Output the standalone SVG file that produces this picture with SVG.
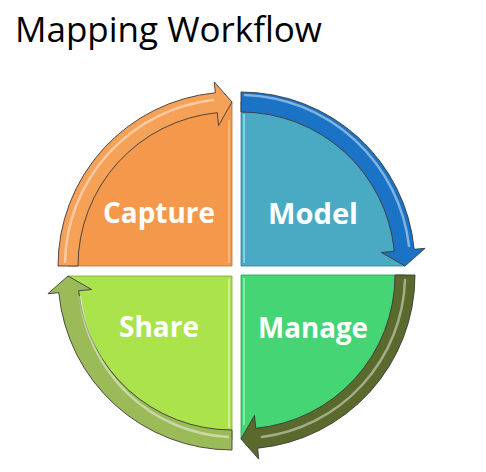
<svg xmlns="http://www.w3.org/2000/svg" width="486" height="472" viewBox="0 0 486 472">
<defs>
<style>
.title{font-family:"Open Sans","Liberation Sans",sans-serif;font-size:34px;fill:#000}
.lbl{font-family:"Open Sans","Liberation Sans",sans-serif;font-weight:bold;font-size:28px;fill:#fff;text-anchor:middle}
.q{stroke-width:0.8}
.arr{stroke:#3a3a3a;stroke-width:0.9;stroke-linejoin:round}
.hl{fill:none;stroke:#fff;stroke-width:2.5;stroke-opacity:0.45;stroke-linecap:round}
.edge{stroke-width:2;stroke-opacity:0.5}
</style>
</defs>
<rect width="486" height="472" fill="#fff"/>
<text class="title" x="15" y="42" textLength="307" lengthAdjust="spacingAndGlyphs">Mapping Workflow</text>

<g id="capture">
<path class="q" d="M232,266 L68,266 A164,164 0 0 1 232,102 Z" fill="#F4994B" stroke="#b8702f"/>
<line class="edge" x1="229" y1="120" x2="229" y2="263" stroke="#ffd2a8"/>
<text class="lbl" x="159" y="223" textLength="112" lengthAdjust="spacingAndGlyphs">Capture</text>
</g>
<g id="model">
<path class="q" d="M241,266 L241,102 A164,164 0 0 1 405,266 Z" fill="#4AAAC4" stroke="#2f7f96"/>
<line class="edge" x1="244" y1="114" x2="244" y2="263" stroke="#bff0ff"/>
<text class="lbl" x="313" y="224" textLength="90" lengthAdjust="spacingAndGlyphs">Model</text>
</g>
<g id="manage">
<path class="q" d="M241,275 L405,275 A164,164 0 0 1 241,439 Z" fill="#45D574" stroke="#2b9a50"/>
<line class="edge" x1="244" y1="278" x2="244" y2="425" stroke="#c5ffd6"/>
<text class="lbl" x="313" y="338" textLength="110" lengthAdjust="spacingAndGlyphs">Manage</text>
</g>
<g id="share">
<path class="q" d="M232,276 L232,440 A164,164 0 0 1 68,276 Z" fill="#AAE34B" stroke="#7aa832"/>
<line class="edge" x1="229" y1="279" x2="229" y2="428" stroke="#f0ffc8"/>
<text class="lbl" x="159" y="337" textLength="80" lengthAdjust="spacingAndGlyphs">Share</text>
</g>

<g id="connectors">
<path class="arr" d="M58,266 A174,174 0 0 1 215.3,92.8 L214.3,81.9 L232,102 L218.5,125.6 L217.25,112.7 A154,154 0 0 0 78,266 Z" fill="#F6A158"/>
<path class="hl" d="M65,262 A167,167 0 0 1 213,100"/>
<path class="arr" d="M241,92 A174,174 0 0 1 414.2,249.3 L425.1,248.3 L405,266 L381.4,252.5 L394.3,251.25 A154,154 0 0 0 241,112 Z" fill="#1B73C6"/>
<path class="hl" d="M245,95 A171,171 0 0 1 409,246" stroke-opacity="0.3"/>
<path class="arr" d="M415,275 A174,174 0 0 1 257.7,448.2 L258.7,459.1 L241,439 L254.5,415.4 L255.75,428.3 A154,154 0 0 0 395,275 Z" fill="#5A6A2C"/>
<path class="hl" d="M405,280 A164,164 0 0 1 262,437" stroke-opacity="0.35"/>
<path class="arr" d="M232,450 A174,174 0 0 1 58.8,292.7 L47.9,293.7 L68,276 L91.6,289.5 L78.7,290.75 A154,154 0 0 0 232,430 Z" fill="#9BBB59"/>
<path class="hl" d="M228,437 A158,158 0 0 1 80,297" stroke-opacity="0.35"/>
</g>
</svg>
